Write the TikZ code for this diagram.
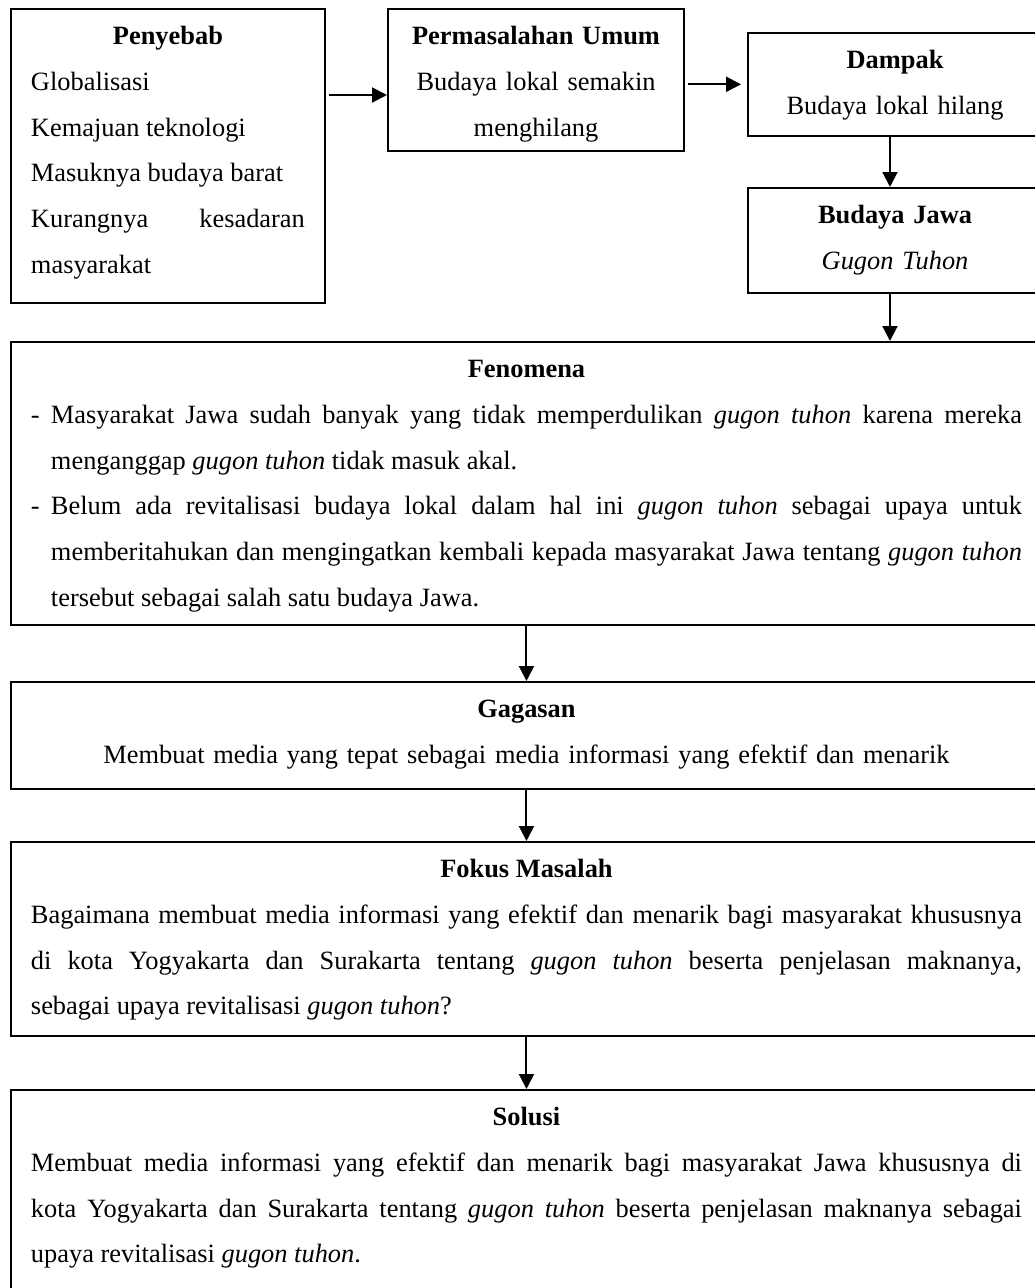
\documentclass[tikz,border=0pt]{standalone}
\usepackage{fontspec}
\setmainfont{Liberation Serif}
\usepackage{tikz}
\usetikzlibrary{arrows.meta}
\hyphenpenalty=10000
\exhyphenpenalty=10000
\tolerance=10000

\begin{document}
\begin{tikzpicture}[x=0.4545pt, y=-0.4545pt,
        kotak/.style={draw, line width=0.9pt, anchor=north west, inner xsep=9.09pt, inner ysep=1.8pt,
          font=\fontsize{12pt}{20.75pt}\selectfont},
        panah/.style={line width=0.9pt, -{Triangle[length=6.8pt, width=6.8pt]}}
      ]
    \useasboundingbox (0,0) rectangle (1035,1288);
    \clip (0,0) rectangle (1035,1288);

    \node[kotak, align=justify, text width=124.5pt] (sebab) at (10,8) {
      \strut\hfill\textbf{Penyebab}\hfill\null\par
      Globalisasi\par
      Kemajuan teknologi\par
      Masuknya budaya barat\par
      Kurangnya kesadaran\linebreak
      masyarakat\rule[-11.8pt]{0pt}{11.8pt}
    };
    \node[kotak, align=center, text width=116.4pt] (masalah) at (387,8) {
      \strut\textbf{Permasalahan Umum}\\
      Budaya lokal semakin\\
      menghilang\rule[-5pt]{0pt}{5pt}
    };
    \node[kotak, align=center, text width=115.5pt] (dampak) at (747,32) {
      \strut\textbf{Dampak}\\
      Budaya lokal hilang\rule[-7.75pt]{0pt}{7.75pt}
    };
    \node[kotak, align=center, text width=115.5pt] (jawa) at (747,187) {
      \strut\textbf{Budaya Jawa}\\
      \textit{Gugon Tuhon}\rule[-8.65pt]{0pt}{8.65pt}
    };

    \node[kotak, align=justify, text width=450.4pt] (fenomena) at (10,341) {
      \strut\hfill\textbf{Fenomena}\hfill\null\par
      \makebox[9.09pt][l]{-}Masyarakat Jawa sudah banyak yang tidak memperdulikan \textit{gugon tuhon} karena mereka\linebreak
      \hspace*{9.09pt}menganggap \textit{gugon tuhon} tidak masuk akal.\par
      \makebox[9.09pt][l]{-}Belum ada revitalisasi budaya lokal dalam hal ini \textit{gugon tuhon} sebagai upaya untuk\linebreak
      \hspace*{9.09pt}memberitahukan dan mengingatkan kembali kepada masyarakat Jawa tentang \textit{gugon tuhon}\linebreak
      \hspace*{9.09pt}tersebut sebagai salah satu budaya Jawa.\rule[-6.84pt]{0pt}{6.84pt}
    };
    \node[kotak, align=center, text width=450.4pt] (gagasan) at (10,681) {
      \strut\textbf{Gagasan}\\
      Membuat media yang tepat sebagai media informasi yang efektif dan menarik\rule[-9.6pt]{0pt}{9.6pt}
    };
    \node[kotak, align=justify, text width=450.4pt] (fokus) at (10,841) {
      \strut\hfill\textbf{Fokus Masalah}\hfill\null\par
      Bagaimana membuat media informasi yang efektif dan menarik bagi masyarakat khususnya\linebreak
      di kota Yogyakarta dan Surakarta tentang \textit{gugon tuhon} beserta penjelasan maknanya,\linebreak
      sebagai upaya revitalisasi \textit{gugon tuhon}?\rule[-7.75pt]{0pt}{7.75pt}
    };
    \node[kotak, align=justify, text width=450.4pt] (solusi) at (10,1089) {
      \strut\hfill\textbf{Solusi}\hfill\null\par
      Membuat media informasi yang efektif dan menarik bagi masyarakat Jawa khususnya di\linebreak
      kota Yogyakarta dan Surakarta tentang \textit{gugon tuhon} beserta penjelasan maknanya sebagai\linebreak
      upaya revitalisasi \textit{gugon tuhon}.\rule[-20pt]{0pt}{20pt}
    };

    \coordinate (p1) at (329,95);
    \draw[panah] (p1) -- (masalah.west |- p1);
    \draw[panah, shorten <=1.4pt, shorten >=2.7pt] (masalah.east |- dampak.west) -- (dampak.west);
    \draw[panah] ([xshift=-2.3pt]dampak.south) -- ([xshift=-2.3pt]jawa.north);
    \draw[panah] ([xshift=-2.3pt]jawa.south) coordinate (j1) -- (fenomena.north -| j1);
    \draw[panah] (fenomena) -- (gagasan);
    \draw[panah] (gagasan) -- (fokus);
    \draw[panah] (fokus) -- (solusi);

    \end{tikzpicture}
\end{document}
